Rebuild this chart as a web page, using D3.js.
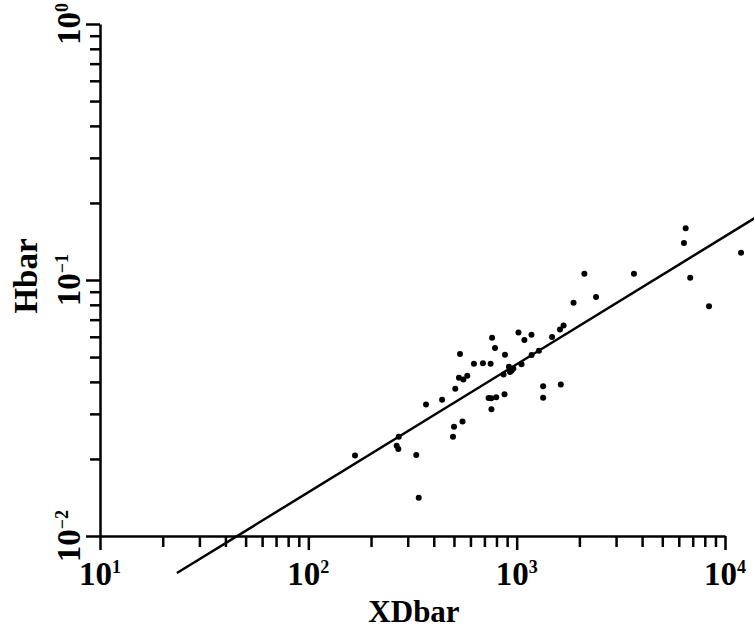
<!DOCTYPE html>
<html lang="en">
<head>
    <meta charset="UTF-8">
    <title>Hbar vs XDbar</title>
    <script src="https://d3js.org/d3.v7.min.js"></script>
    <style>
        body { margin: 0; background: #fff; }
        svg text { font-family: "Liberation Serif", "DejaVu Serif", serif; font-weight: bold; fill: #000; }
        .axis path, .axis line { stroke: #000; stroke-width: 2.5; }
    </style>
</head>
<body>
    <svg id="chart" width="754" height="635"></svg>

    <script>
        // data
        const xdbar = [167.5, 271.6, 265.5, 270.4, 329.7, 338.8, 367.2, 438.5, 507.3, 500.3,
            494.6, 549.5, 534.6, 528.5, 554.6, 579.4, 623.7, 688.7, 749.9, 762,
            787, 732.8, 755.1, 797.6, 756.9, 874.4, 879, 864.9, 918.3, 946.2,
            928.9, 963.8, 1020, 1089, 1178, 1055, 1180, 1279, 1340, 1340,
            1479, 1629, 1614, 1679, 1875, 2113, 2405, 3656, 6474, 6353,
            6808, 8380, 11940];
        const hbar = [0.02065, 0.02443, 0.02253, 0.02188, 0.02072, 0.01411, 0.03266, 0.03407, 0.03758, 0.02673,
            0.02443, 0.02799, 0.0514, 0.0415, 0.0409, 0.04227, 0.0471, 0.04729, 0.0471, 0.05952,
            0.0542, 0.0346, 0.03451, 0.03483, 0.03126, 0.0358, 0.05105, 0.04277, 0.04581, 0.04431,
            0.04371, 0.04508, 0.06237, 0.05829, 0.0611, 0.04685, 0.0509, 0.05294, 0.03846, 0.03467,
            0.05984, 0.0391, 0.06412, 0.06637, 0.08147, 0.1058, 0.0859, 0.1058, 0.1592, 0.1395,
            0.1021, 0.0789, 0.1279];

        // fitted line end points
        const fitX = [23.4, 14000];
        const fitH = [0.00717, 0.1752];

        // decade labels (powers of ten)
        const xTickExp = [1, 2, 3, 4];
        const yTickExp = [-2, -1, 0];

        const svg = d3.select("#chart");

        const x = d3.scaleLog().domain([10, 1e4]).range([100, 725]);
        const y = d3.scaleLog().domain([0.01, 1]).range([536, 24]);

        const majorX = xTickExp.map(e => Math.pow(10, e));
        const majorY = yTickExp.map(e => Math.pow(10, e));
        const isMajor = v => Math.abs(Math.log10(v) - Math.round(Math.log10(v))) < 1e-9;

        // x axis
        const gx = svg.append("g")
            .attr("class", "axis")
            .attr("transform", "translate(0,536)")
            .call(d3.axisBottom(x).tickValues(x.ticks()).tickSizeOuter(0).tickFormat(""));
        gx.selectAll(".tick line").attr("y2", d => isMajor(d) ? 14 : 11);

        // y axis
        const gy = svg.append("g")
            .attr("class", "axis")
            .attr("transform", "translate(100,0)")
            .call(d3.axisLeft(y).tickValues(y.ticks()).tickSizeOuter(0).tickFormat(""));
        gy.selectAll(".tick line").attr("x2", d => isMajor(d) ? -14 : -10);

        // x tick labels
        xTickExp.forEach((e, i) => {
            const t = svg.append("text")
                .attr("x", x(majorX[i]))
                .attr("y", 585)
                .attr("text-anchor", "middle")
                .style("font-size", "33px");
            t.append("tspan").text("10");
            t.append("tspan").attr("dy", -12).style("font-size", "18px").text(String(e));
        });

        // y tick labels (rotated)
        yTickExp.forEach((e, i) => {
            const t = svg.append("text")
                .attr("transform", `translate(80,${y(majorY[i])}) rotate(-90)`)
                .attr("text-anchor", "middle")
                .style("font-size", "33px");
            t.append("tspan").text("10");
            t.append("tspan").attr("dy", -12).style("font-size", "18px")
                .text(e < 0 ? "\u2212" + (-e) : String(e));
        });

        // axis titles
        svg.append("text")
            .attr("x", 414)
            .attr("y", 622)
            .attr("text-anchor", "middle")
            .style("font-size", "31px")
            .text("XDbar");

        svg.append("text")
            .attr("transform", "translate(37,276) rotate(-90)")
            .attr("text-anchor", "middle")
            .style("font-size", "33px")
            .text("Hbar");

        // fit line
        const line = d3.line()
            .x(d => x(d[0]))
            .y(d => y(d[1]));

        svg.append("path")
            .datum(fitX.map((v, i) => [v, fitH[i]]))
            .attr("d", line)
            .attr("fill", "none")
            .attr("stroke", "#000")
            .attr("stroke-width", 2.5);

        // points
        svg.selectAll(".dot")
            .data(xdbar.map((v, i) => [v, hbar[i]]))
            .enter()
            .append("circle")
            .attr("class", "dot")
            .attr("cx", d => x(d[0]))
            .attr("cy", d => y(d[1]))
            .attr("r", 3)
            .attr("fill", "#000");
    </script>
</body>
</html>
